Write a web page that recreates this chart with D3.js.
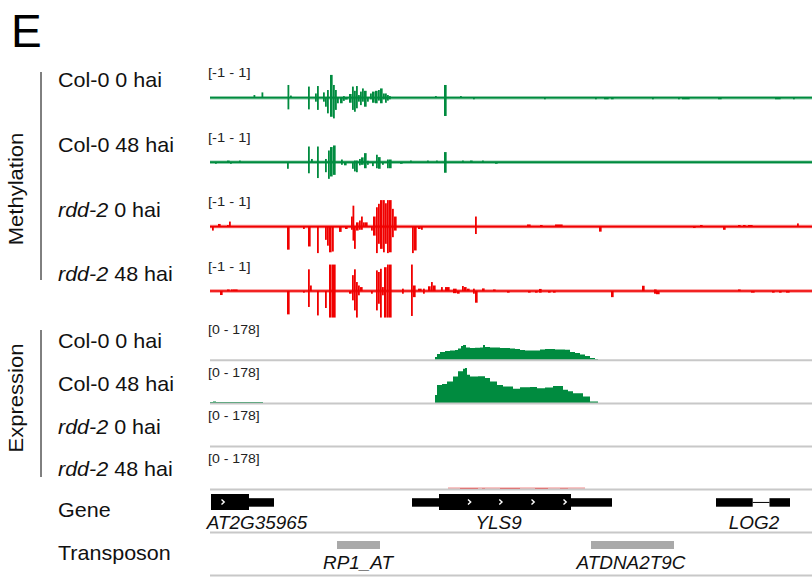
<!DOCTYPE html>
<html>
<head>
<meta charset="utf-8">
<script src="https://cdn.jsdelivr.net/npm/d3@7/dist/d3.min.js"></script>
<style>
  body { margin: 0; background: #fff; }
  svg { display: block; }
  text { font-family: "Liberation Sans", Arial, Helvetica, sans-serif; }
</style>
</head>
<body>
<svg id="fig" width="812" height="577"></svg>
<script>
// ---- Data ---------------------------------------------------------------
// Genomic window: positions in bp from the start of the displayed region.
const regionStart = 0;
const regionEnd = 6020;

const sampleGenotypes = ["Col-0", "Col-0", "rdd-2", "rdd-2"];
const sampleTimes = ["0 hai", "48 hai", "0 hai", "48 hai"];
const mutantGenotype = "rdd-2";

const methRangeLabel = "[-1 - 1]";
const exprRangeLabel = "[0 - 178]";
const exprMax = 178;

// Methylation tracks: [start bp, end bp, methylation difference]
const methCol0_0h = [
  [435,450,0.1],[515,530,0.2],[775,795,0.48],[775,795,-0.44],[800,820,0.08],
  [980,1000,0.42],[980,1000,-0.44],[1050,1070,0.16],[1050,1070,-0.15],
  [1070,1090,0.44],[1070,1090,-0.46],[1130,1150,0.2],[1130,1150,-0.15],
  [1150,1170,-0.34],[1170,1190,0.29],[1170,1190,-0.59],[1200,1230,0.86],[1200,1230,-0.72],
  [1230,1250,0.48],[1230,1250,-0.78],[1250,1270,0.29],[1250,1270,-0.46],
  [1270,1290,-0.21],[1300,1330,-0.21],[1330,1350,0.06],[1330,1350,-0.12],
  [1350,1380,-0.07],[1390,1420,0.14],[1390,1420,-0.19],[1420,1440,0.42],[1420,1440,-0.46],
  [1440,1460,0.26],[1440,1460,-0.53],[1460,1480,0.44],[1460,1480,-0.4],
  [1480,1500,0.1],[1480,1500,-0.15],[1500,1520,0.23],[1500,1520,-0.28],
  [1520,1540,0.35],[1520,1540,-0.15],[1540,1570,0.26],[1540,1570,-0.34],
  [1570,1590,-0.15],[1600,1620,0.16],[1600,1620,-0.06],[1620,1650,0.23],[1620,1650,-0.19],
  [1650,1680,0.26],[1650,1680,-0.21],[1680,1700,0.29],[1680,1700,-0.11],
  [1700,1730,0.35],[1700,1730,-0.21],[1730,1750,0.16],[1730,1750,-0.06],
  [1750,1770,0.16],[1750,1770,-0.19],[1770,1790,0.1],[1770,1790,-0.11],
  [1790,1810,0.06],[1790,1810,-0.06],[2250,2270,0.06],[2340,2370,0.48],[2340,2370,-0.69],
  [2500,2520,0.06],[2630,2650,-0.06],[3340,3360,-0.06],[3850,3870,-0.06],[3940,3990,-0.06],
  [4010,4040,-0.06],[4420,4440,-0.06],[4680,4700,-0.06],[4720,4800,-0.06],
  [5080,5120,-0.06],[5650,5710,-0.06],[5830,5850,-0.06]
];
const methCol0_48h = [
  [50,70,-0.06],[170,200,0.06],[200,220,-0.06],[290,310,0.06],[770,790,-0.25],
  [980,1000,0.59],[980,1000,-0.42],[1010,1030,0.12],[1070,1090,0.59],[1070,1090,-0.6],
  [1150,1170,0.12],[1150,1170,-0.38],[1180,1200,0.44],[1180,1200,-0.63],
  [1200,1230,0.57],[1200,1230,-0.54],[1230,1260,0.63],[1230,1260,-0.48],
  [1310,1330,0.1],[1310,1330,-0.1],[1340,1370,-0.12],[1420,1440,-0.25],
  [1440,1460,0.06],[1440,1460,-0.35],[1460,1480,0.06],[1460,1480,-0.38],
  [1490,1510,0.12],[1490,1510,-0.12],[1510,1540,0.18],[1510,1540,-0.1],
  [1540,1570,0.34],[1540,1570,-0.23],[1570,1590,0.05],[1570,1590,-0.1],[1620,1630,-0.15],
  [1660,1680,0.28],[1660,1680,-0.23],[1680,1710,0.19],[1680,1710,-0.25],[1720,1730,-0.1],
  [1770,1790,0.1],[1770,1790,-0.23],[1790,1820,0.1],[1790,1820,-0.23],
  [1900,1930,-0.06],[2000,2020,0.06],[2170,2190,0.06],[2260,2280,0.06],
  [2340,2370,0.38],[2340,2370,-0.4],[2520,2540,0.06],[2600,2630,0.06],[2720,2740,0.06],
  [2850,2880,-0.06]
];
const methRdd2_0h = [
  [20,40,-0.15],[80,110,0.1],[170,190,0.06],[190,210,0.19],[770,800,-0.87],[930,950,-0.09],
  [980,1010,-0.75],[1070,1090,-1.0],[1150,1170,-0.5],[1170,1190,-0.72],[1190,1220,-0.97],
  [1220,1240,-0.94],[1290,1320,-0.2],[1350,1380,-0.09],[1410,1425,0.38],[1410,1425,-0.12],
  [1425,1440,0.79],[1425,1440,-0.53],[1440,1460,-0.84],[1460,1490,0.16],[1460,1490,-0.15],
  [1490,1510,0.23],[1490,1510,-0.12],[1510,1530,0.38],[1510,1530,-0.12],[1530,1550,0.16],
  [1550,1580,0.16],[1610,1630,-0.15],[1630,1660,0.38],[1630,1660,-0.34],
  [1660,1680,0.73],[1660,1680,-1.0],[1680,1700,0.86],[1680,1700,-0.65],
  [1700,1730,1.0],[1700,1730,-0.84],[1730,1750,1.0],[1730,1750,-0.97],
  [1750,1770,0.88],[1750,1770,-0.65],[1770,1790,1.0],[1770,1790,-1.0],
  [1790,1820,1.0],[1790,1820,-0.97],[1820,1840,0.67],[1820,1840,-0.4],
  [1840,1870,0.38],[1840,1870,-0.15],[2020,2040,-1.0],[2040,2070,-0.9],
  [2080,2110,-0.09],[2110,2130,-0.12],[2650,2670,0.38],[2650,2670,-0.28],
  [3170,3210,0.08],[3300,3330,0.06],[3450,3530,0.08],[3890,3920,-0.19],
  [4830,4860,-0.05],[4900,4930,0.06],[5130,5160,-0.12],[5280,5310,0.06],
  [5330,5360,0.06],[5380,5430,0.06],[5870,5890,0.12]
];
const methRdd2_48h = [
  [100,130,-0.15],[170,200,0.06],[210,230,0.06],[230,280,0.06],[770,800,-0.88],[930,950,-0.06],
  [980,1000,0.82],[980,1000,-0.6],[1000,1020,0.21],[1070,1090,-0.92],[1150,1170,-0.64],
  [1190,1220,1.0],[1190,1220,-1.0],[1220,1260,1.0],[1220,1260,-1.0],[1390,1420,-0.1],
  [1420,1440,0.6],[1420,1440,-0.35],[1440,1460,0.82],[1440,1460,-0.73],
  [1460,1480,0.34],[1460,1480,-1.0],[1480,1500,0.21],[1480,1500,-0.16],[1500,1530,0.15],
  [1610,1630,-0.1],[1660,1680,0.78],[1660,1680,-0.73],[1680,1700,0.72],[1680,1700,-0.48],
  [1700,1720,0.84],[1700,1720,-1.0],[1720,1740,0.15],[1720,1740,-0.16],
  [1740,1770,0.9],[1740,1770,-1.0],[1770,1790,1.0],[1770,1790,-1.0],[1790,1820,1.0],[1790,1820,-1.0],
  [1920,1940,0.09],[1920,1940,-0.1],[2010,2030,1.0],[2010,2030,-0.94],[2030,2060,0.21],[2030,2060,-0.23],
  [2080,2120,0.09],[2130,2150,0.09],[2130,2150,-0.1],[2180,2210,0.18],[2210,2230,0.34],
  [2230,2260,0.21],[2310,2330,0.15],[2350,2400,0.15],[2430,2470,0.09],[2430,2470,-0.08],
  [2470,2500,-0.1],[2520,2540,0.19],[2540,2570,0.15],[2570,2600,0.09],
  [2630,2650,0.09],[2630,2650,-0.1],[2650,2680,-0.44],[2720,2750,0.1],[2830,2860,0.06],
  [2970,3000,-0.06],[3180,3210,-0.06],[3250,3280,-0.06],[3290,3320,0.08],[3290,3320,-0.06],
  [3380,3410,-0.06],[3430,3460,-0.06],[4010,4040,-0.23],[4320,4350,0.2],
  [4440,4470,0.06],[4440,4470,-0.1],[4460,4500,-0.12],[5280,5310,0.06],
  [5410,5450,-0.06],[5620,5650,-0.06],[5690,5720,-0.06],[5760,5800,-0.06]
];

// RNA-seq coverage: [position bp, read depth]
const exprCol0_0h = [
  [2250,15],[2270,30],[2300,40],[2350,44],[2400,47],[2450,49],[2480,57],[2510,69],[2530,74],
  [2560,62],[2600,59],[2650,61],[2700,62],[2730,74],[2750,64],[2800,62],[2850,62],[2900,59],
  [2950,59],[3000,57],[3050,54],[3100,49],[3150,47],[3200,47],[3250,47],[3300,52],[3350,54],
  [3400,54],[3450,52],[3500,52],[3550,51],[3600,40],[3650,35],[3700,27],[3750,20],[3800,10],
  [3850,5],[3880,0]
];
const exprCol0_48h = [
  [0,5],[30,8],[60,5],[530,0],
  [2250,40],[2270,89],[2320,94],[2370,107],[2430,132],[2480,157],[2530,170],[2550,173],
  [2570,140],[2600,132],[2680,133],[2750,124],[2800,107],[2870,90],[2930,82],[3030,71],
  [3100,78],[3200,79],[3270,74],[3350,77],[3430,84],[3530,66],[3580,59],[3630,49],
  [3730,33],[3800,8],[3880,0]
];
const exprRdd2_0h = [];
const exprRdd2_48h = [
  [2380,2],[2500,5],[2680,2],[2720,4],[2750,2],[2900,5],[3100,2],[3250,5],[3380,2],
  [3500,4],[3580,2],[3750,0]
];

// Gene models (bp)
const geneNames = ["AT2G35965", "YLS9", "LOG2"];
const geneCdsStarts = [10, 2290, null];
const geneCdsEnds = [390, 3610, null];
const geneExons = [[[10, 640]], [[2020, 4020]], [[5060, 5427], [5595, 5800]]];
const geneLabelPos = [470, 2886, 5440];
const geneStrandMarks = [[130], [2595, 2908, 3230, 3550], []];

// Transposable elements (bp)
const teNames = ["RP1_AT", "ATDNA2T9C"];
const teStarts = [1270, 3810];
const teEnds = [1700, 4640];
const teLabelPos = [1480, 4210];

// ---- Drawing ------------------------------------------------------------
const svg = d3.select("#fig");
const green = "#008b3f";
const red = "#f00000";
const grey = "#c8c8c8";

const x = d3.scaleLinear().domain([regionStart, regionEnd]).range([210, 812]);
const methY = d3.scaleLinear().domain([-1, 1]).range([26.5, -26.5]);
const exprY = d3.scaleLinear().domain([0, exprMax]).range([0, -36]);

function stretchedText(g, tx, ty, size, sx, anchor) {
  return g.append("text")
    .attr("transform", `translate(${tx},${ty}) scale(${sx},1)`)
    .attr("font-size", size)
    .attr("text-anchor", anchor || "start");
}

function sampleLabel(g, i, y) {
  const t = stretchedText(g, 58, y, 20.5, 1.05).attr("fill", "#111");
  if (sampleGenotypes[i] === mutantGenotype) {
    t.append("tspan").attr("font-style", "italic").text(sampleGenotypes[i]);
  } else {
    t.append("tspan").text(sampleGenotypes[i]);
  }
  t.append("tspan").text(" " + sampleTimes[i]);
}

// Panel letter
stretchedText(svg, 11, 47, 46, 1.0).attr("fill", "#000").text("E");

// Group labels and brackets
svg.append("line").attr("x1", 41).attr("x2", 41).attr("y1", 72).attr("y2", 280)
  .attr("stroke", "#000").attr("stroke-width", 1);
svg.append("line").attr("x1", 41).attr("x2", 41).attr("y1", 330).attr("y2", 477)
  .attr("stroke", "#000").attr("stroke-width", 1);
svg.append("text").attr("transform", "translate(23,189) rotate(-90) scale(1.05,1)")
  .attr("font-size", 21).attr("text-anchor", "middle").attr("fill", "#111").text("Methylation");
svg.append("text").attr("transform", "translate(23,398) rotate(-90) scale(1.05,1)")
  .attr("font-size", 21).attr("text-anchor", "middle").attr("fill", "#111").text("Expression");

// Methylation tracks
const methTracks = [methCol0_0h, methCol0_48h, methRdd2_0h, methRdd2_48h];
const methBase0 = 97.7, methStep = 64.45;
const methLabelY = [87, 152, 216.5, 281];
const barGap = 0.35;

methTracks.forEach((track, i) => {
  const base = methBase0 + i * methStep;
  const col = sampleGenotypes[i] === mutantGenotype ? red : green;
  const g = svg.append("g").attr("transform", `translate(0,${base})`);

  sampleLabel(svg, i, methLabelY[i]);
  stretchedText(g, 208, -20.5, 12.5, 1.18).attr("fill", "#222").text(methRangeLabel);

  g.append("line").attr("x1", x(regionStart)).attr("x2", x(regionEnd))
    .attr("y1", methY(0)).attr("y2", methY(0))
    .attr("stroke", col).attr("stroke-opacity", 0.45).attr("stroke-width", 3.5);

  g.selectAll("rect.bar").data(track).join("rect")
    .attr("class", "bar")
    .attr("x", d => x(d[0]))
    .attr("width", d => Math.max(1.8, x(d[1]) - x(d[0]) - barGap))
    .attr("y", d => Math.min(methY(d[2]), methY(0)))
    .attr("height", d => Math.abs(methY(d[2]) - methY(0)))
    .attr("fill", col);

  g.append("line").attr("x1", x(regionStart)).attr("x2", x(regionEnd))
    .attr("y1", methY(0)).attr("y2", methY(0))
    .attr("stroke", col).attr("stroke-width", 1.6);
});

// Expression tracks
const exprTracks = [exprCol0_0h, exprCol0_48h, exprRdd2_0h, exprRdd2_48h];
const exprBase0 = 360, exprStep = 43.1;
const exprLabelY = [348, 391, 433.5, 476];

exprTracks.forEach((track, i) => {
  const base = exprBase0 + i * exprStep;
  const col = sampleGenotypes[i] === mutantGenotype ? red : green;
  const g = svg.append("g").attr("transform", `translate(0,${base})`);

  sampleLabel(svg, i, exprLabelY[i]);
  stretchedText(g, 208, -26, 12.5, 1.13).attr("fill", "#222").text(exprRangeLabel);

  if (sampleGenotypes[i] === mutantGenotype && track.length) {
    g.append("line").attr("x1", x(track[0][0])).attr("x2", x(track[track.length - 1][0]))
      .attr("y1", -1.2).attr("y2", -1.2).attr("stroke", "#f28c8c").attr("stroke-width", 1.2);
  }

  const area = d3.area()
    .x(d => x(d[0]))
    .y0(exprY(0))
    .y1(d => exprY(d[1]))
    .curve(d3.curveStepAfter);
  if (track.length) {
    g.append("path").datum(track).attr("d", area).attr("fill", col);
  }

  g.append("line").attr("x1", x(regionStart)).attr("x2", x(regionEnd))
    .attr("y1", 0.3).attr("y2", 0.3).attr("stroke", grey).attr("stroke-width", 2);
});

// Gene track
stretchedText(svg, 58, 517, 20.5, 1.05).attr("fill", "#111").text("Gene");
const geneG = svg.append("g");
const thickTop = 494, thickH = 16, thinTop = 498.2, thinH = 8.5;

geneNames.forEach((name, i) => {
  const exons = geneExons[i];
  // introns
  for (let k = 1; k < exons.length; k++) {
    geneG.append("line").attr("x1", x(exons[k - 1][1])).attr("x2", x(exons[k][0]))
      .attr("y1", thinTop + thinH / 2).attr("y2", thinTop + thinH / 2)
      .attr("stroke", "#000").attr("stroke-width", 1);
  }
  exons.forEach(e => {
    geneG.append("rect").attr("x", x(e[0])).attr("width", x(e[1]) - x(e[0]))
      .attr("y", thinTop).attr("height", thinH).attr("fill", "#000");
  });
  if (geneCdsStarts[i] !== null) {
    geneG.append("rect").attr("x", x(geneCdsStarts[i]))
      .attr("width", x(geneCdsEnds[i]) - x(geneCdsStarts[i]))
      .attr("y", thickTop).attr("height", thickH).attr("fill", "#000");
  }
  geneStrandMarks[i].forEach(p => {
    const cx = x(p), cy = thickTop + thickH / 2;
    geneG.append("path")
      .attr("d", `M${cx - 1.5},${cy - 2.5} L${cx + 1.2},${cy} L${cx - 1.5},${cy + 2.5}`)
      .attr("fill", "none").attr("stroke", "#fff").attr("stroke-width", 1.4);
  });
  stretchedText(geneG, x(geneLabelPos[i]), 529, 17.5, 1.08, "middle")
    .attr("font-style", "italic").attr("fill", "#111").text(name);
});
svg.append("line").attr("x1", x(regionStart)).attr("x2", x(regionEnd))
  .attr("y1", 532.5).attr("y2", 532.5).attr("stroke", grey).attr("stroke-width", 2);

// Transposon track
stretchedText(svg, 58, 560, 20.5, 1.05).attr("fill", "#111").text("Transposon");
const teG = svg.append("g");
teNames.forEach((name, i) => {
  teG.append("rect").attr("x", x(teStarts[i])).attr("width", x(teEnds[i]) - x(teStarts[i]))
    .attr("y", 541).attr("height", 8).attr("fill", "#a9a9a9");
  stretchedText(teG, x(teLabelPos[i]), 569, 17.5, 1.08, "middle")
    .attr("font-style", "italic").attr("fill", "#111").text(name);
});
svg.append("line").attr("x1", x(regionStart)).attr("x2", x(regionEnd))
  .attr("y1", 575.5).attr("y2", 575.5).attr("stroke", grey).attr("stroke-width", 2);
</script>
</body>
</html>
